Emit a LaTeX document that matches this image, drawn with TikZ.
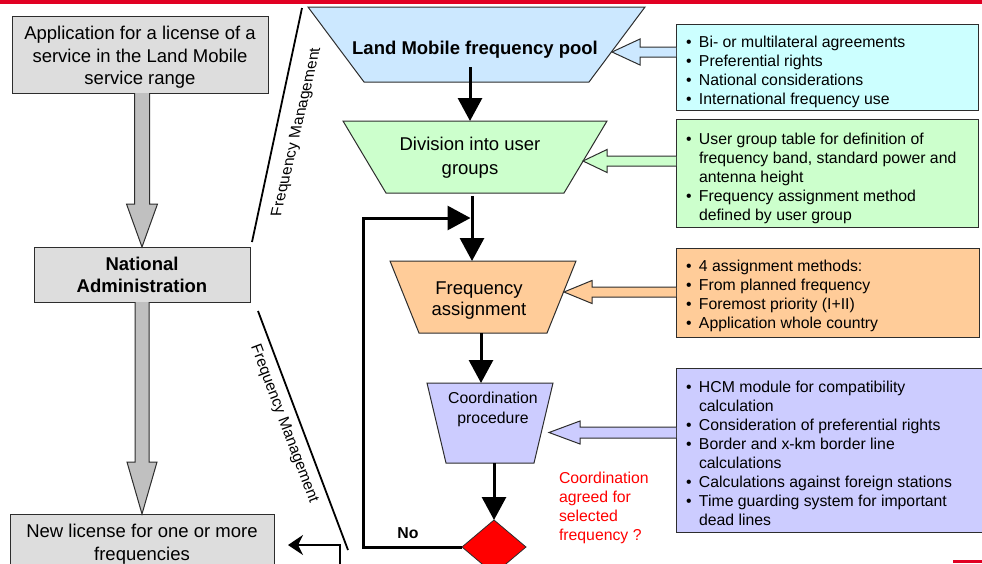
\documentclass[tikz,border=0pt]{standalone}
\usepackage{fontspec}
\setmainfont{Liberation Sans}
\usetikzlibrary{shapes.geometric,arrows.meta,calc}

\definecolor{barred}{RGB}{225,0,35}
\definecolor{boxgray}{RGB}{221,221,221}
\definecolor{arrgray}{RGB}{192,192,192}
\definecolor{poolblue}{RGB}{204,232,255}
\definecolor{cyanbox}{RGB}{204,255,255}
\definecolor{grn}{RGB}{204,255,204}
\definecolor{org}{RGB}{255,204,153}
\definecolor{lav}{RGB}{204,204,255}
\definecolor{edge}{RGB}{45,45,45}

\newcommand\blt{\makebox[13pt][l]{\textbullet}}
\newcommand\cnt{\hspace*{13pt}}
\newcommand\fsz[2]{\fontsize{#1}{#2}\selectfont}
% horizontal block arrow pointing left: style, tail node anchor, tip coordinate, shaft half, head half, head length
\newcommand\blockL[6]{\draw[#1] let \p1=(#2), \p2=(#3) in
  (\x1,\y2+#4) -- (\x2+#6,\y2+#4) -- (\x2+#6,\y2+#5) -- (\x2,\y2) --
  (\x2+#6,\y2-#5) -- (\x2+#6,\y2-#4) -- (\x1,\y2-#4);}
% vertical block arrow pointing down
\newcommand\blockD[6]{\draw[#1] let \p1=(#2), \p2=(#3) in
  (\x2+#4,\y1) -- (\x2+#4,\y2+#6) -- (\x2+#5,\y2+#6) -- (\x2,\y2) --
  (\x2-#5,\y2+#6) -- (\x2-#4,\y2+#6) -- (\x2-#4,\y1);}
% inverted trapezoid drawn on the frame of a named node: style, node, inset
\newcommand\trapdraw[3]{\filldraw[#1] (#2.north west) -- (#2.north east) --
  ([xshift=-#3]#2.south east) -- ([xshift=#3]#2.south west) -- cycle;}

\begin{document}
\begin{tikzpicture}[x=1pt,y=-1pt,
  every node/.style={inner sep=0pt, outer sep=0pt},
  gbox/.style={draw=edge, line width=1pt, fill=boxgray},
  gtext/.style={align=center, font=\fsz{18.5}{22.5}},
  ibox/.style={draw=edge, line width=1pt},
  itext/.style={align=left, anchor=west, font=\fsz{15.8}{19}},
  trapframe/.style={},
  trap/.style={draw=edge, line width=1pt, line join=miter},
  flow/.style={line width=3pt, -{Triangle[length=23pt,width=24pt]}},
  harr/.style={draw=edge, line width=1pt},
  garr/.style={draw=edge, line width=1pt, fill=arrgray},
  fmline/.style={line width=1.8pt},
  fmtext/.style={font=\fsz{15.5}{18}},
]
\useasboundingbox (0,0) rectangle (982,563);
\clip (0,0) rectangle (982,563);

% red bars
\fill[barred] (0,0) rectangle (982,4);
\fill[barred] (953,560) rectangle (982,563);

% left column
\node[gbox, minimum width=256pt, minimum height=77pt] (app) at (140,54.5) {};
\node[gtext] (appT) at ([yshift=-3pt]app.center)
  {Application for a license of a\\service in the Land Mobile\\service range};
\node[gbox, minimum width=216pt, minimum height=55pt] (nat) at (142,274.5) {};
\node[gtext, font=\bfseries\fsz{18.5}{22.5}] (natT) at ([yshift=-0.5pt]nat.center) {National\\Administration};
\node[gbox, minimum width=264pt, minimum height=55pt] (lic) at (142,541.5) {};
\node[gtext] (licT) at ([yshift=-2.5pt]lic.center) {New license for one or more\\frequencies};
\blockD{garr}{app.south}{nat.north}{7.5pt}{15.5pt}{43pt}
\blockD{garr}{nat.south}{lic.north}{7pt}{15pt}{52pt}

% frequency management lines
\coordinate (fa) at (252,242);
\coordinate (fb) at (302,8);
\draw[fmline] (fa) -- (fb);
\node[fmtext, cm={0.235,1,-1,0,(0,0)}] (fm1) at (297,132) {Frequency Management};
\coordinate (fc) at (258,311);
\coordinate (fd) at (348,550);
\draw[fmline] (fc) -- (fd);
\node[fmtext, rotate=-69.4] (fm2) at (284,424) {Frequency Management};

% trapezoids (frame nodes + outline)
\node[trapframe, minimum width=337pt, minimum height=75pt] (t1) at (476.5,44.5) {};
\node[trapframe, minimum width=264pt, minimum height=72pt] (t2) at (475,157) {};
\node[trapframe, minimum width=186pt, minimum height=72pt] (t3) at (483,297) {};
\node[trapframe, minimum width=126pt, minimum height=80pt] (t4) at (490,423) {};
\trapdraw{trap, fill=poolblue}{t1}{56pt}
\trapdraw{trap, fill=grn}{t2}{43pt}
\trapdraw{trap, fill=org}{t3}{29pt}
\trapdraw{trap, fill=lav}{t4}{19pt}
\node[font=\bfseries\fsz{18.5}{22}] (t1t) at (475,50) {Land Mobile frequency pool};
\node[align=center, font=\fsz{18.5}{24}] (t2t) at (470,158) {Division into user\\groups};
\node[align=center, font=\fsz{18.5}{21.5}] (t3t) at (479,300.5) {Frequency\\assignment};
\node[align=center, font=\fsz{15.8}{20}] (t4t) at (493,409) {Coordination\\procedure};

% decision
\node[diamond, draw=edge, line width=0.8pt, fill=red, minimum width=64pt, minimum height=54pt] (dia) at (494,547) {};
\node[font=\bfseries\fsz{15.8}{19}] (no) at (408,533) {No};
\node[anchor=west, align=left, text=red, font=\fsz{15.8}{19}] (q) at (559,507.5)
  {Coordination\\agreed for\\selected\\frequency ?};

% right info boxes
\node[ibox, fill=cyanbox, minimum width=302pt, minimum height=86pt] (bA) at (827,67) {};
\node[itext] (bAt) at ([xshift=10pt,yshift=-5pt]bA.west)
  {\blt Bi- or multilateral agreements\\ \blt Preferential rights\\ \blt National considerations\\ \blt International frequency use};
\node[ibox, fill=grn, minimum width=302pt, minimum height=108pt] (bB) at (827,173) {};
\node[itext] (bBt) at ([xshift=10pt,yshift=-5pt]bB.west)
  {\blt User group table for definition of\\ \cnt frequency band, standard power and\\ \cnt antenna height\\ \blt Frequency assignment method\\ \cnt defined by user group};
\node[ibox, fill=org, minimum width=303pt, minimum height=89pt] (bC) at (827.5,292.5) {};
\node[itext] (bCt) at ([xshift=10pt,yshift=-3.5pt]bC.west)
  {\blt 4 assignment methods:\\ \blt From planned frequency\\ \blt Foremost priority (I+II)\\ \blt Application whole country};
\node[ibox, fill=lav, minimum width=314pt, minimum height=164pt] (bD) at (833,450) {};
\node[itext] (bDt) at ([xshift=10pt,yshift=-3pt]bD.west)
  {\blt HCM module for compatibility\\ \cnt calculation\\ \blt Consideration of preferential rights\\ \blt Border and x-km border line\\ \cnt calculations\\ \blt Calculations against foreign stations\\ \blt Time guarding system for important\\ \cnt dead lines};

% hollow block arrows
\coordinate (tipA) at (612,52);
\coordinate (tipB) at (583,161);
\coordinate (tipC) at (564,292);
\coordinate (tipD) at (549,432.5);
\blockL{harr, fill=poolblue}{bA.west}{tipA}{5pt}{13pt}{28pt}
\blockL{harr, fill=grn}{bB.west}{tipB}{5pt}{11.5pt}{24pt}
\blockL{harr, fill=org}{bC.west}{tipC}{5pt}{11.5pt}{28pt}
\blockL{harr, fill=lav}{bD.west}{tipD}{5.5pt}{11.5pt}{31pt}

% flow arrows
\coordinate (a1) at ([xshift=-6.5pt]t1.south);
\draw[flow] ([yshift=15pt]a1) -- (a1 |- t2.north);
\coordinate (a2) at ([xshift=-3pt]t2.south);
\draw[flow] ([yshift=-3pt]a2) -- (a2 |- t3.north);
\coordinate (a3) at ([xshift=-2pt]t3.south);
\draw[flow] (a3) -- (a3 |- t4.north);
\draw[flow] (t4.south -| dia.north) -- (dia.north);
\coordinate (loopcorner) at (363,218);
\coordinate (loopin) at (470.5,218);
\draw[flow] (dia.west) -| (loopcorner) -- (loopin);

% yes branch to new license
\coordinate (yesfrom) at (340,600);
\draw[line width=2.5pt, -{Stealth[length=15pt,width=20pt]}] (yesfrom) |- ([xshift=14pt,yshift=-3.5pt]lic.east);
\end{tikzpicture}
\end{document}
